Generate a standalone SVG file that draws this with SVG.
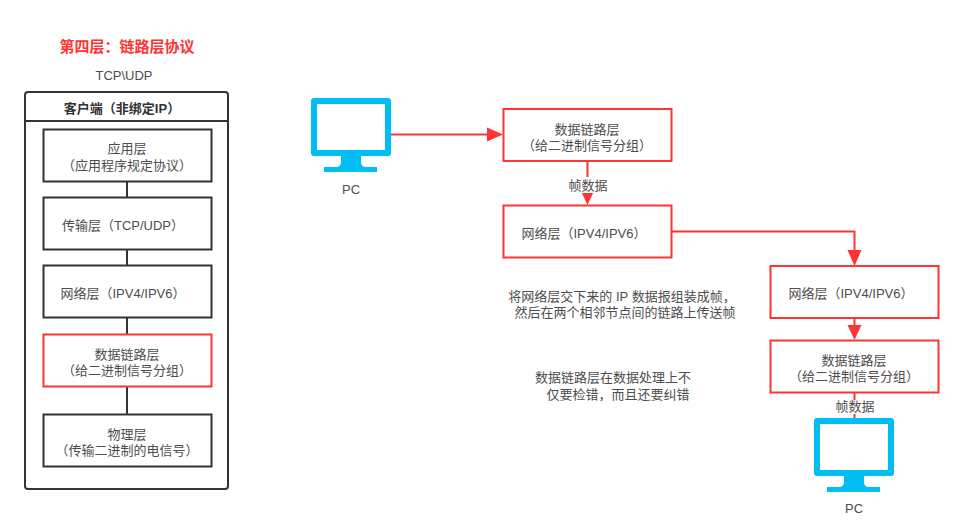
<svg xmlns="http://www.w3.org/2000/svg" width="963" height="529" viewBox="0 0 963 529">
<style>
text{font-family:"Liberation Sans","Noto Sans CJK SC",sans-serif;font-size:13px;fill:#4d4d4d;text-anchor:middle}
.box{fill:#fff;stroke:#333;stroke-width:2}
.red{fill:#fff;stroke:#ff3333;stroke-width:2}
.line{fill:none;stroke:#333;stroke-width:2}
.rl{fill:none;stroke:#ff3333;stroke-width:2}
.ah{fill:#ff3333}
.pc{fill:#00bef2}
</style>
<defs>
<g id="pcicon">
<path class="pc" fill-rule="evenodd" d="M3 0H77Q80 0 80 3V55Q80 58 77 58H50V64Q50 69 55 69H66V74H13V69H25Q30 69 30 64V58H3Q0 58 0 55V3Q0 0 3 0ZM6 6V52H74V6Z"/>
</g>
</defs>
<rect width="963" height="529" fill="#fff"/>
<text x="127" y="52" style="font-size:15px;font-weight:bold;fill:#ff3333">第四层：链路层协议</text>
<text x="124" y="80">TCP\UDP</text>
<g id="client">
<rect x="25" y="92" width="203" height="397" rx="3" fill="#fff" stroke="#333" stroke-width="2"/>
<path class="line" d="M25 121H228"/>
<text x="122" y="113" style="font-weight:bold;fill:#333">客户端（非绑定IP）</text>
</g>
<g id="connectors">
<path class="line" d="M127 182V197M127 250V266M127 318V334M127 386V414"/>
<path class="rl" d="M391 134.500H487"/>
<path class="ah" d="M487 127.500L503 134.500L487 141.500Z"/>
<path class="rl" d="M587.500 161V190"/>
<path class="ah" d="M580.500 190L587.500 205L594.500 190Z"/>
<path class="rl" d="M672 231.500H854.500V250"/>
<path class="ah" d="M847.500 250L854.500 266L861.500 250Z"/>
<path class="rl" d="M854.500 318V325"/>
<path class="ah" d="M847.500 325L854.500 340L861.500 325Z"/>
<path class="rl" d="M854.500 393V419"/>
</g>
<g id="app"><rect class="box" x="43.500" y="129.500" width="168" height="52"/><text x="127" y="153">应用层</text><text x="127" y="170">（应用程序规定协议）</text></g>
<g id="transport"><rect class="box" x="43.500" y="197.500" width="168" height="52"/><text x="123" y="230">传输层（TCP/UDP）</text></g>
<g id="network"><rect class="box" x="43.500" y="265.500" width="168" height="52"/><text x="123" y="298">网络层（IPV4/IPV6）</text></g>
<g id="link"><rect class="red" x="43.500" y="334.500" width="168" height="52"/><text x="127" y="359">数据链路层</text><text x="127" y="375">（给二进制信号分组）</text></g>
<g id="physical"><rect class="box" x="43.500" y="414.500" width="168" height="52"/><text x="127" y="439">物理层</text><text x="127" y="455">（传输二进制的电信号）</text></g>
<g id="pc1"><use href="#pcicon" x="311" y="98"/><text x="351" y="194">PC</text></g>
<g id="link1"><rect class="red" x="503.500" y="109" width="168" height="52"/><text x="587" y="134">数据链路层</text><text x="587" y="150">（给二进制信号分组）</text></g>
<g id="label1"><rect x="568" y="177" width="40" height="16" fill="#fff"/><text x="588" y="190">帧数据</text></g>
<g id="net1"><rect class="red" x="503.500" y="205.500" width="168" height="52"/><text x="584" y="238">网络层（IPV4/IPV6）</text></g>
<g id="net2"><rect class="red" x="770.500" y="266" width="168" height="52"/><text x="851" y="298">网络层（IPV4/IPV6）</text></g>
<g id="link2"><rect class="red" x="770.500" y="340.500" width="168" height="52"/><text x="854" y="365">数据链路层</text><text x="854" y="381">（给二进制信号分组）</text></g>
<g id="pc2"><use href="#pcicon" x="814" y="418"/><text x="854" y="513">PC</text></g>
<g id="label2"><rect x="835" y="400" width="40" height="14" fill="#fff"/><text x="855" y="411">帧数据</text></g>
<g id="note1"><text x="622" y="301">将网络层交下来的 IP 数据报组装成帧，</text><text x="625" y="317">然后在两个相邻节点间的链路上传送帧</text></g>
<g id="note2"><text x="613" y="382">数据链路层在数据处理上不</text><text x="618" y="399">仅要检错，而且还要纠错</text></g>
</svg>
